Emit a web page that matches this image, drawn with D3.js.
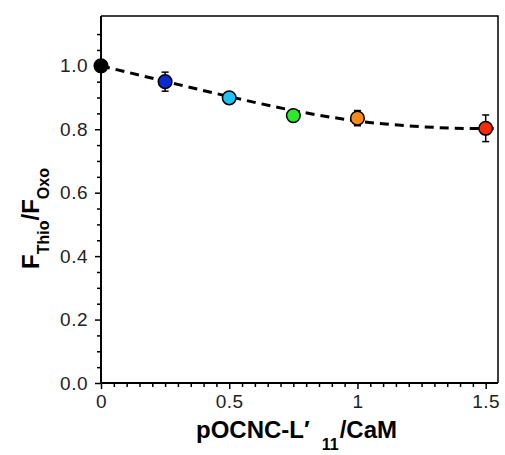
<!DOCTYPE html>
<html>
<head>
<meta charset="utf-8">
<script src="https://cdn.jsdelivr.net/npm/d3@7/dist/d3.min.js"></script>
<style>
  html, body { margin: 0; padding: 0; background: #fff; }
  svg { display: block; }
</style>
</head>
<body>
<script>
// ---- data ----
const ratio = [0, 0.25, 0.5, 0.75, 1.0, 1.5];
const fRatio = [1.0, 0.950, 0.899, 0.843, 0.835, 0.803];
const fErr = [0.0, 0.030, 0.008, 0.008, 0.024, 0.042];
const pointColors = ["#000000", "#0a2ad2", "#1ec4f4", "#2ee82e", "#f78a1c", "#f42a08"];
const fitX = [0, 0.25, 0.5, 0.75, 1.0, 1.25, 1.5, 1.55];
const fitY = [1.0, 0.951, 0.903, 0.859, 0.826, 0.808, 0.802, 0.802];
const xTickValues = [0, 0.5, 1, 1.5];
const xTickLabels = ["0", "0.5", "1", "1.5"];
const yTickValues = [0, 0.2, 0.4, 0.6, 0.8, 1.0];
const yTickLabels = ["0.0", "0.2", "0.4", "0.6", "0.8", "1.0"];

// ---- layout ----
const W = 505, H = 455;
const frame = { left: 101, right: 498, top: 16, bottom: 383 };

const svg = d3.select("body").append("svg").attr("width", W).attr("height", H);

const x = d3.scaleLinear().domain([0, 1.548]).range([frame.left, frame.right]);
const y = d3.scaleLinear().domain([0, 1.157]).range([frame.bottom, frame.top]);

const font = "'Liberation Sans', Arial, Helvetica, sans-serif";

// frame (top/right)
svg.append("path")
  .attr("d", `M${frame.left},${frame.top}H${frame.right}V${frame.bottom}`)
  .attr("fill", "none").attr("stroke", "#000").attr("stroke-width", 1.5);

// minor ticks
const yMinor = d3.range(0, 23).map(i => i * 0.05).filter(v => v <= 1.1001 && !yTickValues.some(t => Math.abs(t - v) < 1e-6));
const xMinor = d3.range(0, 31).map(i => i * 0.05).filter(v => v <= 1.5001 && !xTickValues.some(t => Math.abs(t - v) < 1e-6));

const yAxis = svg.append("g").attr("transform", `translate(${frame.left},0)`)
  .call(d3.axisLeft(y).tickValues(yTickValues).tickFormat((d, i) => yTickLabels[i]).tickSize(6).tickPadding(7));
const yAxisMinor = svg.append("g").attr("transform", `translate(${frame.left},0)`)
  .call(d3.axisLeft(y).tickValues(yMinor).tickFormat("").tickSize(4));
const xAxis = svg.append("g").attr("transform", `translate(0,${frame.bottom})`)
  .call(d3.axisBottom(x).tickValues(xTickValues).tickFormat((d, i) => xTickLabels[i]).tickSize(6).tickPadding(6));
const xAxisMinor = svg.append("g").attr("transform", `translate(0,${frame.bottom})`)
  .call(d3.axisBottom(x).tickValues(xMinor).tickFormat("").tickSize(4));

[yAxis, yAxisMinor, xAxis, xAxisMinor].forEach(g => {
  g.select(".domain").remove();
  g.selectAll(".tick line").attr("stroke", "#000").attr("stroke-width", 1.5);
  g.selectAll(".tick text").attr("fill", "#222").attr("font-family", font).attr("font-size", 19)
    .style("font-size", "19px").style("letter-spacing", "0.5px");
});

// axis lines
svg.append("line").attr("x1", frame.left).attr("x2", frame.left).attr("y1", frame.top).attr("y2", frame.bottom + 1)
  .attr("stroke", "#000").attr("stroke-width", 2);
svg.append("line").attr("x1", frame.left - 1).attr("x2", frame.right).attr("y1", frame.bottom).attr("y2", frame.bottom)
  .attr("stroke", "#000").attr("stroke-width", 2);

// fit line
const line = d3.line().x((d, i) => x(fitX[i])).y(d => y(d)).curve(d3.curveMonotoneX);
svg.append("path").attr("d", line(fitY))
  .attr("fill", "none").attr("stroke", "#000").attr("stroke-width", 3)
  .attr("stroke-dasharray", "9,6");

// error bars
const eb = svg.append("g");
ratio.forEach((r, i) => {
  if (fErr[i] <= 0) return;
  const cx = x(r), y1 = y(fRatio[i] + fErr[i]), y2 = y(fRatio[i] - fErr[i]);
  eb.append("line").attr("x1", cx).attr("x2", cx).attr("y1", y1).attr("y2", y2).attr("stroke", "#000").attr("stroke-width", 1.5);
  [y1, y2].forEach(yy => eb.append("line").attr("x1", cx - 3.5).attr("x2", cx + 3.5).attr("y1", yy).attr("y2", yy)
    .attr("stroke", "#000").attr("stroke-width", 1.5));
});

// points
svg.append("g").selectAll("circle").data(ratio).join("circle")
  .attr("cx", d => x(d)).attr("cy", (d, i) => y(fRatio[i])).attr("r", 6.8)
  .attr("fill", (d, i) => pointColors[i]).attr("stroke", "#000").attr("stroke-width", 1.5);

// y label
const yl = svg.append("text")
  .attr("transform", `translate(39,${(frame.top + frame.bottom) / 2 + 19}) rotate(-90)`)
  .attr("text-anchor", "middle")
  .style("font-family", font).style("font-weight", "bold").style("font-size", "24px").attr("fill", "#000");
yl.append("tspan").text("F");
yl.append("tspan").attr("dy", 10).style("font-size", "16px").text("Thio");
yl.append("tspan").attr("dy", -10).text("/F");
yl.append("tspan").attr("dy", 10).style("font-size", "16px").text("Oxo");

// x label
const xl = svg.append("text")
  .attr("x", 196).attr("y", 438)
  .style("font-family", font).style("font-weight", "bold").style("font-size", "24px").attr("fill", "#000");
xl.append("tspan").text("pOCNC-L\u2032");
xl.append("tspan").attr("dx", 12).attr("dy", 12).style("font-size", "16px").text("11");
xl.append("tspan").attr("dx", 1).attr("dy", -12).text("/CaM");
</script>
</body>
</html>
